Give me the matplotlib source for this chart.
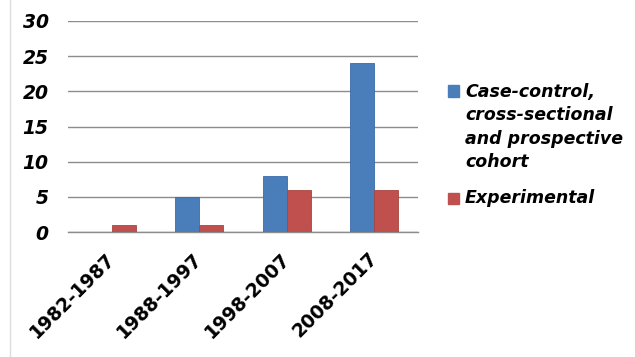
import numpy as np
import matplotlib
matplotlib.use('Agg')
import matplotlib.pyplot as plt
from matplotlib.patches import Rectangle
from matplotlib.lines import Line2D

periods = ['1982-1987', '1988-1997', '1998-2007', '2008-2017']
observational = [0, 5, 8, 24]
experimental = [1, 1, 6, 6]
series_names = ['Case-control,\ncross-sectional\nand prospective\ncohort', 'Experimental']
yticks = [0, 5, 10, 15, 20, 25, 30]

blue = '#4a7ebb'
red = '#c0504d'

plt.rcParams['font.family'] = ['DejaVu Sans']

fig = plt.figure(figsize=(6.35, 3.57), dpi=100)
ax = fig.add_axes([68/635, 1-232/357, 350/635, 211/357])

x = np.arange(len(periods))
w = 0.274
ax.bar(x - w/2, observational, w, color=blue, edgecolor='#3b6aa8', linewidth=0.6, zorder=3)
ax.bar(x + w/2, experimental, w, color=red, edgecolor='#a84440', linewidth=0.6, zorder=3)

ax.set_xlim(-0.5, len(periods) - 0.5)
ax.set_ylim(0, 30)
ax.set_yticks(yticks)
ax.yaxis.grid(True, color='#8c8c8c', linewidth=1.0, zorder=0)
for s in ['top', 'right', 'left']:
    ax.spines[s].set_visible(False)
ax.spines['bottom'].set_color('#8c8c8c')
ax.spines['bottom'].set_linewidth(1.0)
ax.tick_params(axis='both', length=0)
ax.tick_params(axis='y', pad=14)
ax.tick_params(axis='x', pad=17)

ax.set_xticks(x)
ax.set_xticklabels(periods, rotation=45, ha='right', va='center',
                   rotation_mode='anchor', fontsize=13.5, fontweight='bold')
for lab in ax.get_yticklabels():
    lab.set_fontsize(13.5)
    lab.set_fontweight('bold')
    lab.set_fontstyle('italic')

# legend drawn by hand so the swatch sits on the first line
fig.patches.append(Rectangle((448/635, 1-97/357), 11/635, 12/357,
                             transform=fig.transFigure, color=blue))
fig.patches.append(Rectangle((448/635, 1-204/357), 11/635, 11/357,
                             transform=fig.transFigure, color=red))
fig.text(465/635, 1-83/357, series_names[0], ha='left', va='top', fontsize=12.5,
         fontweight='bold', fontstyle='italic', linespacing=1.38)
fig.text(465/635, 1-198/357, series_names[1], ha='left', va='center', fontsize=12.5,
         fontweight='bold', fontstyle='italic')

fig.add_artist(Line2D([10/635, 10/635], [0, 1], transform=fig.transFigure,
                      color='#dddddd', linewidth=1))

fig.savefig('out.png', dpi=100)
